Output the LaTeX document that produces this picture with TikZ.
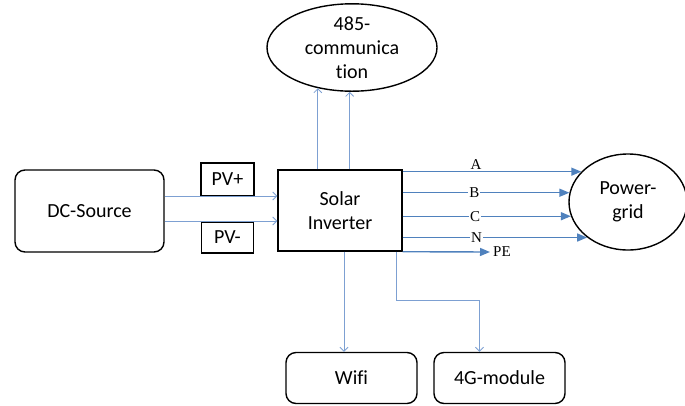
\documentclass[tikz,border=0pt]{standalone}
\usepackage{fontspec}
\setmainfont{Carlito}[Ligatures=NoCommon]
\newfontfamily\lblfont{Liberation Serif}
\usepackage{tikz}
\usepackage{xcolor}
\usetikzlibrary{arrows.meta,positioning,shapes.geometric,calc}

\definecolor{phaseblue}{RGB}{79,129,189}
\definecolor{commblue}{RGB}{125,160,210}

\begin{document}
\begin{tikzpicture}[
    x=1pt, y=-1pt,
    font=\fontsize{20}{24}\selectfont,
    box/.style={draw, line width=1.4pt, rounded corners=10pt, align=center},
    sqbox/.style={draw, line width=1.4pt, align=center},
    oval/.style={draw, line width=1.4pt, ellipse, align=center, inner sep=0pt},
    comm/.style={draw=commblue, line width=0.8pt, -{Straight Barb[length=4pt, width=8pt]}},
    phase/.style={draw=phaseblue, line width=1.4pt, -{Triangle[length=10pt, width=8pt]}},
    lbl/.style={font=\lblfont\fontsize{15}{17}\selectfont, inner sep=1pt}
]
\useasboundingbox (0,0) rectangle (685,405);

\node[box, minimum width=149pt, minimum height=82pt] (dc) at (89.5,211) {DC-Source};
\node[sqbox, minimum width=124pt, minimum height=81pt] (inv) at (340,210.5) {Solar\\Inverter};
\node[sqbox, minimum width=53pt, minimum height=33pt] (pvp) at (227.5,179.5) {PV+};
\node[sqbox, minimum width=52pt, minimum height=31pt] (pvm) at (227.5,237.5) {PV-};

\node[oval, minimum width=170pt, minimum height=85pt] (rs) at (352,47.5)
    {485-\\communica\\tion};
\node[oval, minimum width=118pt, minimum height=96pt] (grid) at (628,202)
    {Power-\\grid};

\node[box, minimum width=131pt, minimum height=51pt] (wifi) at (351.5,378) {Wifi};
\node[box, minimum width=131pt, minimum height=51pt] (gmod) at (499.5,378) {4G-module};

% DC side
\draw[comm] ([yshift=15pt]dc.east) -- ([yshift=15pt]dc.east -| inv.west);
\draw[comm] ([yshift=-10pt]dc.east) -- ([yshift=-10pt]dc.east -| inv.west);

% 485 link
\draw[comm] (inv.north -| rs.230) -- (rs.230);
\draw[comm] (inv.north -| rs.267) -- (rs.267);

% grid phases
\draw[phase] (inv.east |- grid.147) -- node[lbl, above, pos=0.41] {A} (grid.147);
\draw[phase] (inv.east |- grid.171) -- node[lbl, fill=white, pos=0.43] {B} (grid.171);
\draw[phase] (inv.east |- grid.194) -- node[lbl, fill=white, pos=0.43] {C} (grid.194);
\draw[phase] (inv.east |- grid.221) -- node[lbl, fill=white, pos=0.40] {N} (grid.221);
\node[lbl, anchor=west, inner sep=3pt] (pe) at (490,252) {PE};
\draw[phase] (inv.south east) -- (pe.west);

% modules
\draw[comm] ([xshift=4pt]inv.south) -- ([xshift=4pt]inv.south |- wifi.north);
\draw[comm] ([xshift=56pt]inv.south) -- ++(0,49) -| ([xshift=-20pt]gmod.north);

\end{tikzpicture}
\end{document}
